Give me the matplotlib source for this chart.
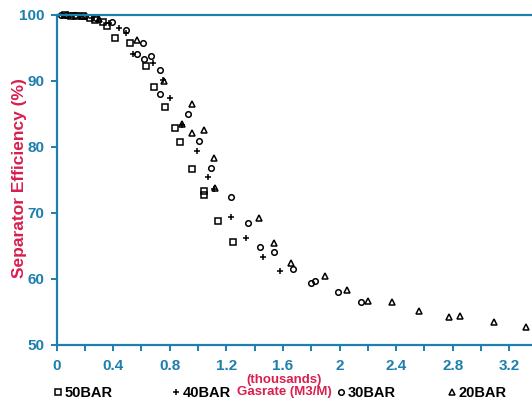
import matplotlib
matplotlib.use('Agg')
import matplotlib.pyplot as plt

# Gasrate (thousands M3/M) vs separator efficiency (%)
x_50 = [0.06, 0.10, 0.14, 0.19, 0.24, 0.27, 0.33, 0.36, 0.41, 0.52, 0.63, 0.69,
        0.77, 0.84, 0.87, 0.96, 1.04, 1.04, 1.14, 1.25]
y_50 = [100.0, 99.9, 99.9, 99.8, 99.5, 99.2, 98.9, 98.4, 96.5, 95.7, 92.3, 89.1,
        86.1, 82.9, 80.8, 76.7, 72.7, 73.3, 68.8, 65.6]

x_40 = [0.04, 0.10, 0.17, 0.25, 0.37, 0.44, 0.49, 0.54, 0.68, 0.75, 0.80, 0.89,
        0.99, 1.07, 1.11, 1.23, 1.34, 1.46, 1.58]
y_40 = [100.0, 100.0, 99.8, 99.5, 98.8, 98.0, 97.3, 94.1, 92.7, 90.2, 87.4, 83.3,
        79.4, 75.5, 73.6, 69.4, 66.2, 63.3, 61.2]

x_30 = [0.03, 0.07, 0.13, 0.20, 0.28, 0.39, 0.49, 0.57, 0.61, 0.67, 0.62, 0.73,
        0.73, 0.93, 1.01, 1.09, 1.23, 1.35, 1.44, 1.54, 1.67, 1.80, 1.83, 1.99, 2.15]
y_30 = [100.0, 100.0, 100.0, 99.8, 99.5, 98.9, 97.7, 94.1, 95.8, 93.8, 93.3, 91.7,
        88.0, 85.0, 80.9, 76.8, 72.4, 68.5, 64.8, 64.1, 61.5, 59.4, 59.7, 58.0, 56.5]

x_20 = [0.08, 0.18, 0.30, 0.57, 0.76, 0.96, 0.89, 0.96, 1.04, 1.11, 1.12, 1.43,
        1.54, 1.66, 1.90, 2.05, 2.20, 2.37, 2.56, 2.77, 2.85, 3.09, 3.32]
y_20 = [100.0, 99.8, 99.4, 96.2, 90.0, 86.5, 83.5, 82.1, 82.6, 78.3, 73.8, 69.2,
        65.4, 62.4, 60.5, 58.4, 56.7, 56.5, 55.1, 54.2, 54.4, 53.5, 52.7]

x_ticks = [0.0, 0.2, 0.4, 0.6, 0.8, 1.0, 1.2, 1.4, 1.6, 1.8, 2.0, 2.2, 2.4,
           2.6, 2.8, 3.0, 3.2]
x_tick_labels = ['0', '', '0.4', '', '0.8', '', '1.2', '', '1.6', '', '2', '',
                 '2.4', '', '2.8', '', '3.2']
y_ticks = [50, 60, 70, 80, 90, 100]

BLUE = '#1c7fae'
RED = '#d81f4f'
FONT = ['Liberation Sans Narrow', 'Liberation Sans', 'DejaVu Sans']

series = [
    ('50BAR', x_50, y_50, 's', 4.6),
    ('40BAR', x_40, y_40, '+', 5.0),
    ('30BAR', x_30, y_30, 'o', 4.0),
    ('20BAR', x_20, y_20, '^', 4.6),
]

fig = plt.figure(figsize=(5.32, 4.03), dpi=100)
ax = fig.add_axes([56.5 / 532, 58 / 403, 1 - 56.5 / 532, 330 / 403])

handles = []
for name, xs, ys, mk, ms in series:
    h, = ax.plot(xs, ys, linestyle='none', marker=mk, markersize=ms,
                 markerfacecolor='none', markeredgecolor='black',
                 markeredgewidth=1.1, color='black', label=name, clip_on=False)
    handles.append(h)

ax.set_xlim(0, 3.36)
ax.set_ylim(50, 100)
ax.set_xticks(x_ticks)
ax.set_xticklabels(x_tick_labels)
ax.set_yticks(y_ticks)

for side in ['left', 'bottom', 'top']:
    ax.spines[side].set_color(BLUE)
    ax.spines[side].set_linewidth(1.6)
ax.spines['right'].set_visible(False)

ax.tick_params(axis='both', colors=BLUE, width=1.4, length=4, direction='out')
ax.tick_params(axis='x', pad=6)
ax.tick_params(axis='y', pad=5)
for lab in ax.get_xticklabels() + ax.get_yticklabels():
    lab.set_fontfamily(FONT)
    lab.set_fontweight('bold')
    lab.set_fontsize(11)
    lab.set_color(BLUE)

fig.text(20 / 532, 1 - 178 / 403, 'Separator Efficiency (%)', rotation=90,
         ha='center', va='center', color=RED, fontsize=12.5, fontweight='bold',
         family=FONT)
fig.text(284 / 532, 1 - 386 / 403, '(thousands)\nGasrate (M3/M)', ha='center',
         va='center', color=RED, fontsize=9.5, fontweight='bold', family=FONT,
         linespacing=1.05)

# legend entries spread along the bottom
leg_x = [54, 172, 337, 448]
for h, lx in zip(handles, leg_x):
    fig.legend(handles=[h], loc='center left',
               bbox_to_anchor=(lx / 532, 1 - 393 / 403), frameon=False,
               handlelength=0.6, handletextpad=0.15, borderpad=0,
               borderaxespad=0,
               prop={'family': FONT, 'weight': 'bold', 'size': 10.5})

fig.savefig('out.png', dpi=100)
